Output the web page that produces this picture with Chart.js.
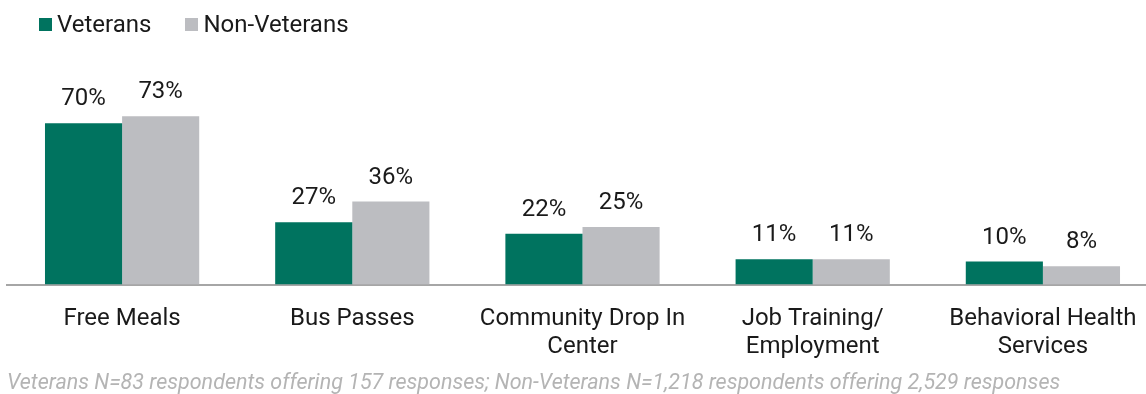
<!DOCTYPE html>
<html>
<head>
<meta charset="utf-8">
<script src="https://cdn.jsdelivr.net/npm/chart.js@4"></script>
<style>
  html, body { margin: 0; padding: 0; background: #fff; overflow: hidden; }
  #wrap { position: relative; width: 1160px; height: 394px; }
  #legend { position: absolute; left: 39px; top: 9px; display: flex; font: 24px Roboto, sans-serif; color: #1a1a1a; line-height: 30px; }
  #legend span.item { display: flex; align-items: center; margin-right: 34px; }
  #legend i { display: inline-block; width: 13px; height: 13px; margin-right: 5px; }
</style>
</head>
<body>
<div id="wrap">
  <canvas id="chart"></canvas>
  <div id="legend"></div>
</div>
<script>
const categories = [['Free Meals'], ['Bus Passes'], ['Community Drop In', 'Center'], ['Job Training/', 'Employment'], ['Behavioral Health', 'Services']];
const seriesNames = ['Veterans', 'Non-Veterans'];
const veterans = [70, 27, 22, 11, 10];
const nonVeterans = [73, 36, 25, 11, 8];
const colors = ['#00735f', '#bcbdc1'];
const footnote = 'Veterans N=83 respondents offering 157 responses; Non-Veterans N=1,218 respondents offering 2,529 responses';

Chart.defaults.font.family = 'Roboto, sans-serif';
Chart.defaults.color = '#1a1a1a';

// value labels above the bars
const valueLabels = {
    id: 'valueLabels',
    afterDatasetsDraw(chart) {
        const ctx = chart.ctx;
        ctx.save();
        ctx.font = '24px Roboto, sans-serif';
        ctx.fillStyle = '#1a1a1a';
        ctx.textAlign = 'center';
        ctx.textBaseline = 'alphabetic';
        chart.data.datasets.forEach((ds, i) => {
            chart.getDatasetMeta(i).data.forEach((bar, j) => {
                ctx.fillText(ds.data[j] + '%', bar.x, bar.y - 18);
            });
        });
        ctx.restore();
    }
};

const chart = new Chart(document.getElementById('chart'), {
    type: 'bar',
    data: {
        labels: categories,
        datasets: [
            { label: seriesNames[0], data: veterans, backgroundColor: colors[0] },
            { label: seriesNames[1], data: nonVeterans, backgroundColor: colors[1] }
        ]
    },
    options: {
        responsive: true,
        maintainAspectRatio: false,
        animation: false,
        datasets: { bar: { categoryPercentage: 0.67, barPercentage: 1 } },
        layout: { padding: { left: 7, right: 2, top: 54, bottom: 0 } },
        plugins: {
            legend: { display: false },
            subtitle: {
                display: true,
                position: 'bottom',
                align: 'start',
                text: footnote,
                color: '#b4b4b4',
                font: { size: 21.5, style: 'italic', lineHeight: 0.95 },
                padding: { top: 15, bottom: 0 }
            },
            tooltip: { enabled: false }
        },
        scales: {
            x: {
                grid: { display: false, drawTicks: false },
                border: { color: '#a6a6a6', width: 2 },
                ticks: { color: '#1a1a1a', font: { size: 24, lineHeight: 28 / 24 }, padding: 20, maxRotation: 0, autoSkip: false },
                afterFit(scale) { scale.height = 74; }
            },
            y: {
                display: false,
                min: 0,
                max: 100
            }
        }
    },
    plugins: [valueLabels]
});

// html legend built from the datasets
const legend = document.getElementById('legend');
chart.data.datasets.forEach(ds => {
    const item = document.createElement('span');
    item.className = 'item';
    const box = document.createElement('i');
    box.style.background = ds.backgroundColor;
    item.appendChild(box);
    item.appendChild(document.createTextNode(ds.label));
    legend.appendChild(item);
});
</script>
</body>
</html>
